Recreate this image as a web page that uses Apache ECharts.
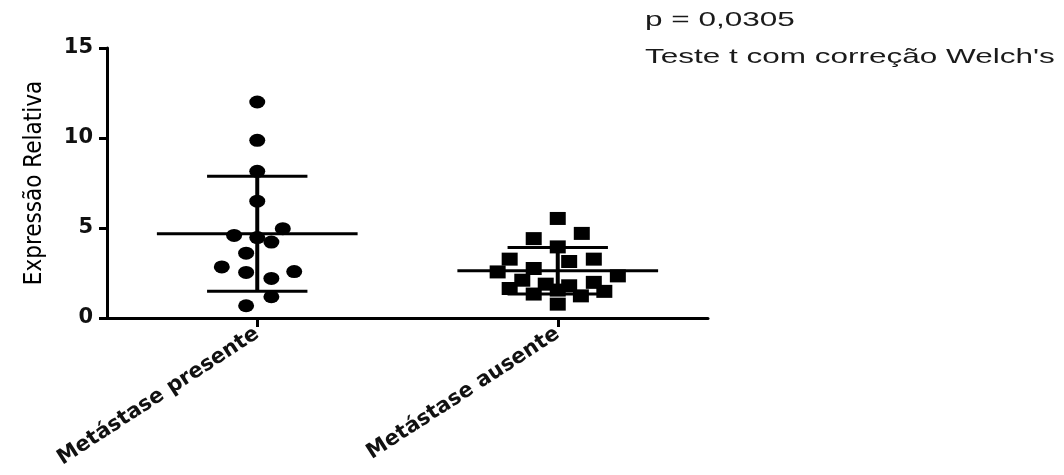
<!DOCTYPE html>
<html>
<head>
<meta charset="utf-8">
<script src="https://cdn.jsdelivr.net/npm/echarts@6/dist/echarts.min.js"></script>
<style>
  html, body { margin: 0; padding: 0; background: #fff; }
  #chart { width: 1064px; height: 475px; }
</style>
</head>
<body>
<div id="chart"></div>
<script>
var categories = ["Metástase presente", "Metástase ausente"];

// metástase presente (circles), value + horizontal scatter offset in category units
var presenteValues = [12.0, 9.87, 8.15, 6.49, 4.96, 4.59, 4.47, 4.22, 3.6, 2.84, 2.53, 2.58, 2.2, 1.18, 0.68];
var presenteJitter = [0, 0, 0, 0, 0.085, -0.077, 0, 0.047, -0.037, -0.118, -0.037, 0.123, 0.047, 0.047, -0.037];

// metástase ausente (squares)
var ausenteValues = [5.53, 4.70, 4.41, 3.95, 3.27, 3.14, 3.27, 2.56, 2.75, 2.34, 2.10, 1.64, 1.88, 1.79, 1.98, 1.33, 1.23, 1.48, 0.77, 1.55];
var ausenteJitter = [0, 0.08, -0.08, 0, -0.16, 0.038, 0.12, -0.2, -0.08, 0.2, -0.118, -0.16, -0.04, 0.038, 0.12, -0.08, 0.077, 0.155, 0, 0];

// mean and standard deviation per group
var means = [4.68, 2.62];
var sds = [3.19, 1.29];

var yTicks = { min: 0, max: 15, interval: 5 };

var pText = "p = 0,0305";
var testText = "Teste t com correção Welch's";

function toPoints(values, jitter, idx) {
  return values.map(function (v, i) { return [idx + jitter[i], v]; });
}

var myChart = echarts.init(document.getElementById("chart"));

myChart.setOption({
  animation: false,
  grid: { left: 107, right: 356, top: 48, bottom: 157 },
  xAxis: [
    {
      type: "category",
      data: categories,
      axisLine: { lineStyle: { color: "#000", width: 3 } },
      axisTick: { show: true, alignWithLabel: true, length: 9, lineStyle: { color: "#000", width: 3 } },
      axisLabel: {
        rotate: 33,
        margin: 14,
        color: "#111",
        fontFamily: "DejaVu Sans",
        fontWeight: "bold",
        fontSize: 21
      }
    },
    {
      type: "value",
      min: -0.5,
      max: 1.5,
      show: false
    }
  ],
  yAxis: {
    type: "value",
    min: yTicks.min,
    max: yTicks.max,
    interval: yTicks.interval,
    name: "Expressão Relativa",
    nameLocation: "middle",
    nameGap: 60,
    nameTextStyle: {
      color: "#000",
      fontFamily: "Liberation Sans Narrow, DejaVu Sans Condensed, sans-serif",
      fontSize: 24
    },
    splitLine: { show: false },
    axisLine: { show: true, onZero: false, lineStyle: { color: "#000", width: 3 } },
    axisTick: { show: true, length: 8, lineStyle: { color: "#000", width: 3 } },
    axisLabel: {
      margin: 14,
      color: "#111",
      fontFamily: "DejaVu Sans",
      fontWeight: "bold",
      fontSize: 21
    }
  },
  graphic: [
    {
      type: "text",
      left: 645,
      top: 10,
      scaleX: 1.5,
      style: { text: pText, fontFamily: "Liberation Sans, Arial", fontSize: 21, fill: "#1a1a1a" }
    },
    {
      type: "text",
      left: 645,
      top: 47,
      scaleX: 1.5,
      style: { text: testText, fontFamily: "Liberation Sans, Arial", fontSize: 21, fill: "#1a1a1a" }
    }
  ],
  series: [
    {
      type: "scatter",
      xAxisIndex: 1,
      symbol: "circle",
      symbolSize: [16, 13],
      itemStyle: { color: "#000", opacity: 1 },
      data: toPoints(presenteValues, presenteJitter, 0)
    },
    {
      type: "scatter",
      xAxisIndex: 1,
      symbol: "rect",
      symbolSize: [16, 13],
      itemStyle: { color: "#000", opacity: 1 },
      data: toPoints(ausenteValues, ausenteJitter, 1)
    },
    {
      type: "custom",
      xAxisIndex: 1,
      z: 5,
      data: means.map(function (m, i) { return [i, m, sds[i]]; }),
      renderItem: function (params, api) {
        var x = api.value(0), m = api.value(1), sd = api.value(2);
        var meanL = api.coord([x - 0.334, m]);
        var meanR = api.coord([x + 0.334, m]);
        var top = api.coord([x, m + sd]);
        var bot = api.coord([x, m - sd]);
        var capL = api.coord([x - 0.167, m]);
        var capR = api.coord([x + 0.167, m]);
        var st = { stroke: "#000", lineWidth: 3 };
        return {
          type: "group",
          children: [
            { type: "line", shape: { x1: meanL[0], y1: meanL[1], x2: meanR[0], y2: meanR[1] }, style: st },
            { type: "line", shape: { x1: top[0], y1: top[1], x2: bot[0], y2: bot[1] }, style: { stroke: "#000", lineWidth: 4 } },
            { type: "line", shape: { x1: capL[0], y1: top[1], x2: capR[0], y2: top[1] }, style: st },
            { type: "line", shape: { x1: capL[0], y1: bot[1], x2: capR[0], y2: bot[1] }, style: st }
          ]
        };
      }
    }
  ]
});
</script>
</body>
</html>
